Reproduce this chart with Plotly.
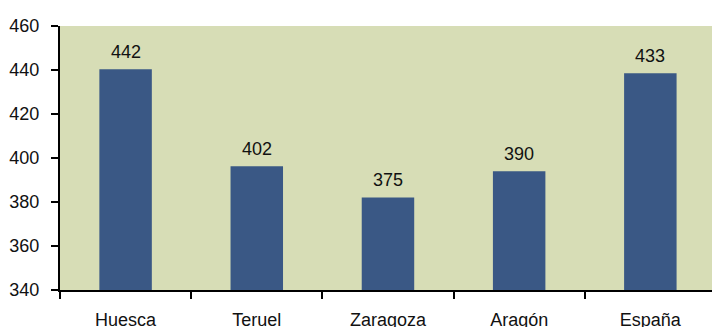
import plotly.graph_objects as go

categories = ["Huesca", "Teruel", "Zaragoza", "Aragón", "España"]
bar_values = [440.3, 396.2, 382.1, 394.0, 438.5]
value_labels = ["442", "402", "375", "390", "433"]
y_ticks = [340, 360, 380, 400, 420, 440, 460]

FONT = "Liberation Sans, Arial, sans-serif"
FS = 18

fig = go.Figure()
fig.add_trace(go.Bar(
    x=categories, y=bar_values, width=0.40,
    marker=dict(color="#3A5885", line=dict(width=0)),
    hoverinfo="skip",
))

for c, v, t in zip(categories, bar_values, value_labels):
    fig.add_annotation(x=c, y=v, text=t, showarrow=False, yanchor="bottom",
                       yshift=5, font=dict(family=FONT, size=FS, color="#111111"))

fig.update_layout(
    width=712, height=327,
    margin=dict(l=60, r=0, t=26, b=37, autoexpand=False),
    paper_bgcolor="white",
    plot_bgcolor="#D7DDB6",
    showlegend=False,
    bargap=0.6,
    xaxis=dict(
        range=[-0.5, 4.47], showgrid=False, zeroline=False, automargin=False,
        showline=True, linecolor="black", linewidth=2,
        ticks="outside", tickson="boundaries", ticklen=7, tickwidth=2, tickcolor="black",
        tickfont=dict(family=FONT, size=FS, color="#111111"),
        ticklabelstandoff=12,
    ),
    yaxis=dict(
        range=[340, 460], tickvals=y_ticks, showgrid=False, zeroline=False, automargin=False,
        showline=True, linecolor="black", linewidth=2,
        ticks="outside", ticklen=7, tickwidth=2, tickcolor="black",
        tickfont=dict(family=FONT, size=FS, color="#111111"),
        ticklabelstandoff=8,
    ),
)

fig.write_html(
    "out.html",
    config={"displayModeBar": False, "staticPlot": True},
    post_script="document.body.style.margin='0';document.body.style.overflow='hidden';",
)
